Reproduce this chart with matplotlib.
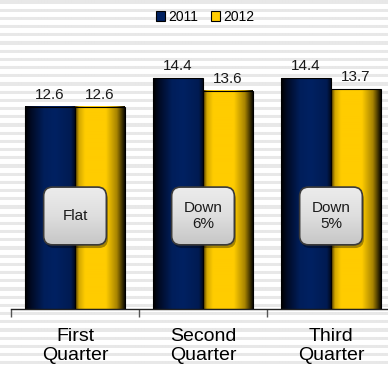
import matplotlib.pyplot as plt
import numpy as np
from matplotlib.colors import LinearSegmentedColormap
from matplotlib.patches import Patch, FancyBboxPatch

plt.rcParams['font.family'] = ['Liberation Sans', 'DejaVu Sans']

# data
quarters = ['First\nQuarter', 'Second\nQuarter', 'Third\nQuarter']
years = ['2011', '2012']
vals_2011 = [12.6, 14.4, 14.4]
vals_2012 = [12.6, 13.6, 13.7]
changes = ['Flat', 'Down\n6%', 'Down\n5%']

navy = '#002060'
gold = '#ffcc00'
navy_cmap = LinearSegmentedColormap.from_list('navy', [
    (0, '#000000'), (0.12, '#000a24'), (0.38, '#001e5a'),
    (0.6, '#002162'), (0.92, '#001b52'), (1, '#000a20')])
gold_cmap = LinearSegmentedColormap.from_list('gold', [
    (0, '#4a3800'), (0.08, '#d4a800'), (0.2, '#ffcc00'),
    (0.62, '#ffcc00'), (0.84, '#a88400'), (1, '#0c0900')])

fig = plt.figure(figsize=(3.88, 3.69), dpi=100)

# striped backdrop
bg = fig.add_axes([0, 0, 1, 1], zorder=0)
rows = np.arange(369)
stripe = np.where((rows % 8.2) < 3.2, 0.91, 1.0)
bg.imshow(np.tile(stripe[:, None], (1, 4)), cmap='gray', vmin=0, vmax=1,
          aspect='auto', extent=(0, 1, 0, 1), interpolation='bilinear')
bg.set_axis_off()

ax = fig.add_axes([11 / 388, 60 / 369, 384 / 388, 309 / 369], zorder=1)
ax.patch.set_visible(False)

x = np.arange(len(quarters))
w = 0.39
b1 = ax.bar(x - w / 2, vals_2011, w, facecolor='none', edgecolor='black', lw=0.8, zorder=3)
b2 = ax.bar(x + w / 2, vals_2012, w, facecolor='none', edgecolor='black', lw=0.8, zorder=3)

grad = np.linspace(0, 1, 200)[None, :]
for bars, cmap, vals in [(b1, navy_cmap, vals_2011), (b2, gold_cmap, vals_2012)]:
    for r, v in zip(bars, vals):
        x0 = r.get_x()
        ax.imshow(grad, cmap=cmap, aspect='auto', zorder=2,
                  extent=(x0, x0 + r.get_width(), 0, r.get_height()))
        ax.text(x0 + r.get_width() / 2, v + 0.5, f'{v}', ha='center',
                va='baseline', fontsize=11, color='#1a1a1a', zorder=5)

# change callouts
bw, bh = 0.49, 3.6
by = 5.8
grad_v = np.linspace(1, 0, 100)[:, None]
box_cmap = LinearSegmentedColormap.from_list('box', ['#c6c6c6', '#dedede', '#ececec'])
for xi, txt in zip(x, changes):
    shadow = FancyBboxPatch((xi - bw / 2 + 0.012, by - bh / 2 - 0.2), bw, bh,
                            boxstyle='round,pad=0,rounding_size=0.07',
                            mutation_aspect=8, facecolor='#000000', alpha=0.35,
                            edgecolor='none', zorder=5)
    ax.add_patch(shadow)
    box = FancyBboxPatch((xi - bw / 2, by - bh / 2), bw, bh,
                         boxstyle='round,pad=0,rounding_size=0.07',
                         mutation_aspect=8, facecolor='#dcdcdc',
                         edgecolor='#3a3a3a', lw=1.2, zorder=7)
    ax.add_patch(box)
    im = ax.imshow(grad_v, cmap=box_cmap, aspect='auto', zorder=6,
                   extent=(xi - bw / 2, xi + bw / 2, by - bh / 2, by + bh / 2))
    im.set_clip_path(box)
    box.set_facecolor('none')
    ax.text(xi, by, txt, ha='center', va='center', fontsize=11,
            color='#1a1a1a', linespacing=1.15, zorder=8)

ax.set_xlim(-0.5, 2.5)
ax.set_ylim(0, 309 / 16.04)

for s in ['top', 'right', 'left']:
    ax.spines[s].set_visible(False)
ax.spines['bottom'].set_color('#222222')
ax.spines['bottom'].set_linewidth(1.0)
ax.set_yticks([])
ax.set_xticks(x, quarters, fontsize=14, linespacing=1.16)
ax.tick_params(axis='x', which='major', length=0, pad=13.5)
ax.set_xticks([-0.5, 0.5, 1.5, 2.5], minor=True)
ax.tick_params(axis='x', which='minor', length=6, color='#555555', width=1)

handles = [Patch(facecolor=navy, edgecolor='black', lw=0.8),
           Patch(facecolor=gold, edgecolor='black', lw=0.8)]
fig.legend(handles, years, loc='center', bbox_to_anchor=(205 / 388, 1 - 17 / 369),
           ncol=2, frameon=False, fontsize=10, handlelength=0.7, handleheight=0.7,
           handletextpad=0.2, columnspacing=0.9, borderaxespad=0)

fig.savefig('out.png', dpi=100)
